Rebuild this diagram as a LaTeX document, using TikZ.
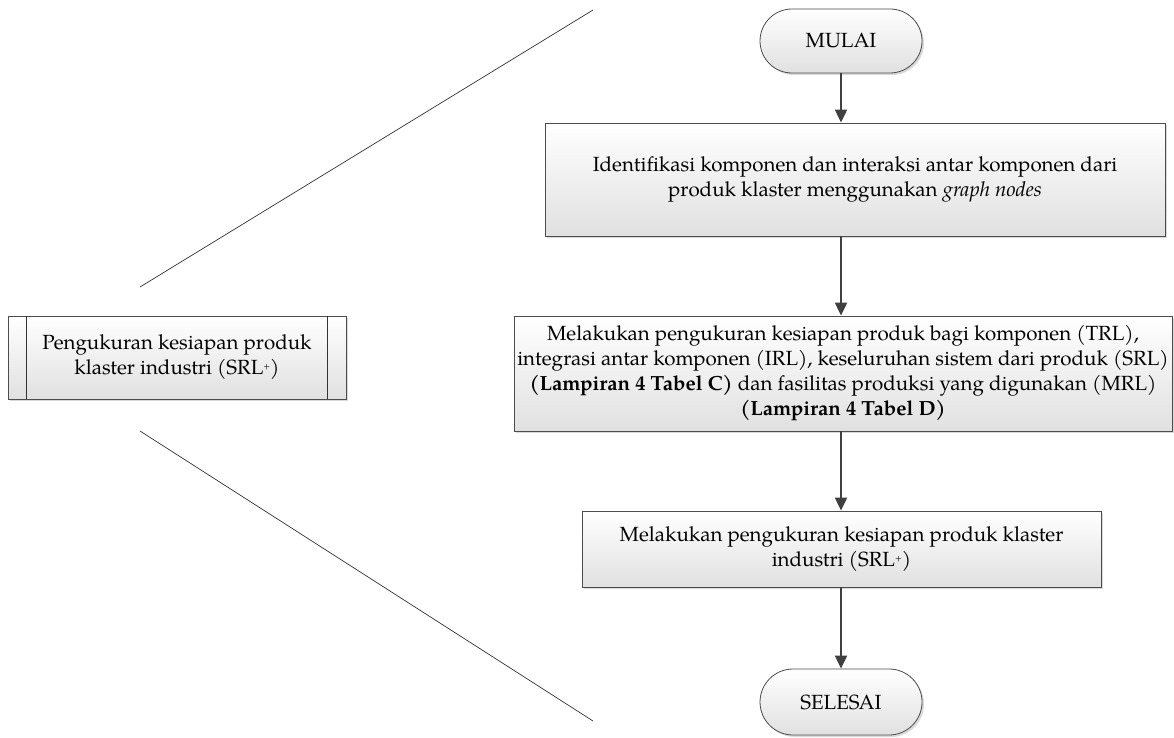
\documentclass[tikz,border=0pt]{standalone}
\usepackage{fontspec}
\setmainfont{TeX Gyre Pagella}
\usetikzlibrary{shapes.misc,arrows.meta,shadows}
\newcommand{\splus}{\raisebox{0.55ex}{\fontsize{9}{9}\selectfont +}}
\begin{document}
\begin{tikzpicture}[x=1pt,y=1pt,
  box/.style={draw=black!70, line width=0.8pt, top color=white, bottom color=black!12,
    drop shadow={shadow xshift=2pt, shadow yshift=-2pt, fill=black!25, opacity=0.6},
    align=center, font=\fontsize{20.5}{25}\selectfont, inner sep=0pt},
  term/.style={box, rounded rectangle, minimum width=162pt},
  flow/.style={draw=black!75, line width=2pt, -{Triangle[length=13pt,width=12pt]}},
  thin/.style={draw=black!80, line width=0.7pt}]
\useasboundingbox (0,0) rectangle (1174,-738);
\node[term, minimum height=64pt] (mulai) at (841,-41) {MULAI};
\node[box, minimum width=620pt, minimum height=113pt] (b1) at (855,-179.5)
  {Identifikasi komponen dan interaksi antar komponen dari\\produk klaster menggunakan \textit{graph nodes}};
\node[box, minimum width=658pt, minimum height=115pt] (b2) at (843,-373.5)
  {Melakukan pengukuran kesiapan produk bagi komponen (TRL),\\
   integrasi antar komponen (IRL), keseluruhan sistem dari produk (SRL)\\
   \textbf{(Lampiran 4 Tabel C)} dan fasilitas produksi yang digunakan (MRL)\\
   \textbf{(Lampiran 4 Tabel D)}};
\node[box, minimum width=519pt, minimum height=76pt] (b3) at (841.5,-549)
  {Melakukan pengukuran kesiapan produk klaster\\industri (SRL\splus)};
\node[term, minimum height=66pt] (selesai) at (841,-702) {SELESAI};
\node[box, minimum width=338pt, minimum height=83pt] (left) at (177,-357.5)
  {Pengukuran kesiapan produk\\klaster industri (SRL\splus)};
\draw[thin] ([xshift=19pt]left.north west) -- ([xshift=19pt]left.south west);
\draw[thin] ([xshift=-19pt]left.north east) -- ([xshift=-19pt]left.south east);
\draw[flow] (mulai.south) -- (mulai.south |- b1.north);
\draw[flow] (mulai.south |- b1.south) -- (mulai.south |- b2.north);
\draw[flow] (mulai.south |- b2.south) -- (mulai.south |- b3.north);
\draw[flow] (mulai.south |- b3.south) -- (selesai.north);
\coordinate (l1a) at (140,-287);
\coordinate (l1b) at (593,-10);
\coordinate (l2a) at (140,-431);
\coordinate (l2b) at (593,-721);
\draw[thin] (l1a) -- (l1b);
\draw[thin] (l2a) -- (l2b);
\end{tikzpicture}
\end{document}
